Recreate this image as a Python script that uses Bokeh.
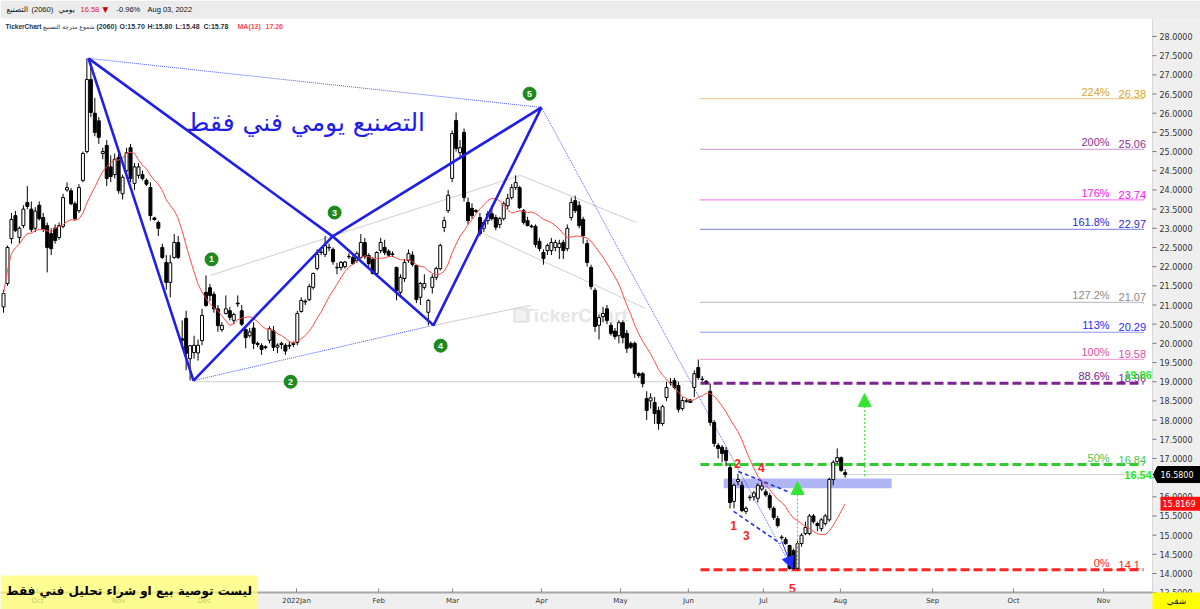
import numpy as np
import pandas as pd
from bokeh.plotting import figure
from bokeh.models import Label, Arrow, NormalHead
from bokeh.core.properties import value
from bokeh.embed import file_html
from bokeh.resources import INLINE

# ---- daily candles, التصنيع (2060) ----
opens = [20.95, 21.56, 22.73, 23.33, 22.76, 23.07, 23.67, 23.50, 23.00, 23.60,
         23.28, 23.07, 22.86, 23.00, 22.76, 23.05, 24.00, 23.98, 23.64, 23.46,
         24.25, 25.00, 26.88, 26.00, 25.80, 24.95, 25.16, 24.60, 24.40, 24.85,
         23.90, 24.50, 25.10, 24.17, 24.38, 24.40, 24.25, 24.06, 23.27, 23.15,
         22.50, 22.11, 21.59, 22.24, 22.63, 20.12, 20.65, 19.60, 19.76, 19.75,
         20.07, 21.33, 21.45, 21.28, 20.90, 20.36, 20.78, 20.85, 20.60, 21.05,
         20.85, 20.36, 20.20, 20.40, 20.00, 19.94, 19.91, 20.08, 20.33, 19.90,
         19.97, 19.95, 19.95, 19.97, 20.02, 20.83, 21.10, 21.14, 21.46, 21.95,
         22.37, 22.32, 22.50, 22.45, 21.98, 21.98, 22.00, 22.27, 22.24, 22.16,
         22.24, 22.63, 22.29, 22.19, 21.82, 22.42, 22.50, 22.40, 22.33, 21.98,
         21.33, 21.69, 22.16, 22.30, 22.03, 21.20, 21.46, 20.81, 21.46, 21.72,
         21.95, 23.02, 23.46, 24.30, 25.81, 24.97, 25.50, 23.67, 23.52, 23.46,
         23.28, 23.00, 23.20, 23.38, 23.28, 23.10, 23.25, 23.59, 23.80, 24.06,
         24.06, 23.46, 23.20, 23.06, 23.05, 22.66, 22.37, 22.42, 22.42, 22.50,
         22.50, 22.63, 22.47, 23.28, 23.72, 23.59, 23.23, 22.60, 21.98, 21.38,
         20.47, 20.70, 20.90, 20.47, 20.32, 20.20, 20.54, 20.26, 20.00, 20.00,
         19.21, 19.21, 18.56, 18.50, 18.46, 18.25, 17.91, 18.59, 18.98, 19.03,
         18.90, 18.30, 18.50, 18.52, 18.85, 19.37, 19.07, 19.01, 18.75, 17.94,
         17.34, 17.29, 17.21, 16.76, 15.88, 16.40, 16.30, 15.62, 15.99, 16.00,
         15.96, 16.20, 16.13, 16.03, 15.70, 15.43, 14.95, 14.89, 14.73, 14.60,
         14.13, 14.78, 15.04, 15.04, 15.50, 15.30, 15.17, 15.30, 15.40, 16.45,
         16.92, 17.02, 16.63]
highs = [21.40, 22.55, 23.40, 23.45, 23.05, 23.60, 24.10, 23.70, 23.55, 23.70,
         23.40, 23.15, 23.00, 23.10, 23.15, 23.90, 24.20, 24.05, 23.70, 24.15,
         25.00, 27.43, 27.30, 26.40, 25.90, 25.10, 25.30, 24.90, 24.95, 25.00,
         24.40, 25.10, 25.20, 24.70, 24.70, 24.50, 24.30, 24.20, 23.30, 23.20,
         22.60, 22.30, 22.30, 22.85, 22.80, 20.60, 20.85, 19.95, 20.20, 20.10,
         20.90, 21.77, 21.55, 21.35, 21.00, 20.55, 21.25, 20.95, 20.80, 21.25,
         21.00, 20.40, 20.40, 20.55, 20.05, 20.00, 19.95, 20.45, 20.45, 20.00,
         20.05, 20.00, 20.05, 20.05, 20.85, 21.20, 21.15, 21.55, 21.85, 22.45,
         22.45, 22.80, 22.60, 22.50, 22.10, 22.15, 22.15, 22.35, 22.30, 22.40,
         22.85, 22.75, 22.35, 22.25, 22.40, 22.75, 22.70, 22.45, 22.40, 22.00,
         21.80, 22.20, 22.45, 22.40, 22.05, 21.60, 21.80, 21.15, 21.80, 22.00,
         22.60, 23.30, 24.00, 25.55, 26.02, 25.30, 25.60, 23.80, 23.65, 23.50,
         23.40, 23.20, 23.45, 23.60, 23.35, 23.30, 23.70, 23.90, 24.15, 24.38,
         24.10, 23.50, 23.30, 23.10, 23.10, 22.75, 22.45, 22.60, 22.75, 22.70,
         22.70, 22.70, 23.10, 23.80, 23.85, 23.70, 23.30, 22.70, 22.05, 21.45,
         20.75, 20.95, 21.00, 20.55, 20.40, 20.60, 20.60, 20.35, 20.05, 20.05,
         19.25, 19.25, 18.75, 18.70, 18.60, 18.35, 18.40, 19.00, 19.10, 19.10,
         19.00, 18.60, 18.55, 18.55, 19.30, 19.58, 19.15, 19.05, 18.95, 18.00,
         17.40, 17.35, 17.30, 16.84, 16.35, 16.60, 16.40, 15.75, 16.05, 16.15,
         16.35, 16.40, 16.20, 16.10, 15.75, 15.50, 15.00, 14.95, 14.75, 14.65,
         14.85, 15.05, 15.35, 15.55, 15.55, 15.35, 15.45, 15.55, 16.50, 16.95,
         17.26, 17.05, 16.72]
lows = [20.80, 21.50, 22.60, 22.90, 22.60, 23.00, 23.50, 22.90, 22.90, 23.20,
        22.90, 21.85, 22.30, 22.60, 22.70, 23.00, 23.95, 23.60, 23.20, 23.40,
        24.20, 24.95, 25.90, 25.40, 25.20, 24.80, 24.10, 24.20, 24.30, 23.90,
        23.75, 24.40, 24.20, 24.00, 24.30, 24.25, 24.10, 23.20, 23.20, 22.80,
        22.20, 21.40, 21.20, 22.20, 22.20, 19.90, 19.30, 19.03, 19.60, 19.55,
        19.95, 20.95, 21.10, 20.80, 20.30, 20.30, 20.75, 20.60, 20.50, 20.95,
        20.45, 19.87, 20.15, 19.85, 19.90, 19.70, 19.85, 20.00, 19.80, 19.75,
        19.85, 19.70, 19.85, 19.90, 19.95, 20.80, 21.00, 21.10, 21.40, 21.90,
        22.30, 22.25, 22.40, 22.05, 21.80, 21.90, 21.95, 22.20, 22.05, 22.10,
        22.20, 22.20, 22.00, 21.80, 21.75, 22.35, 22.30, 22.25, 22.25, 21.12,
        21.20, 21.60, 22.10, 22.00, 21.05, 21.00, 21.40, 20.47, 21.30, 21.65,
        21.90, 22.90, 23.40, 24.20, 25.00, 24.80, 23.70, 23.10, 23.25, 23.40,
        22.80, 22.90, 23.10, 23.20, 22.95, 23.00, 23.20, 23.50, 23.75, 24.00,
        23.50, 23.10, 23.05, 23.00, 22.50, 22.40, 22.05, 22.30, 22.30, 22.40,
        22.20, 22.20, 22.40, 23.20, 23.40, 23.00, 22.60, 22.00, 21.40, 20.30,
        20.10, 20.55, 20.50, 20.20, 20.10, 20.00, 20.00, 19.75, 19.85, 19.10,
        19.10, 18.85, 18.00, 18.30, 17.90, 17.75, 17.85, 18.50, 18.90, 18.80,
        18.20, 18.25, 18.45, 18.45, 18.60, 19.05, 19.00, 18.95, 17.85, 17.30,
        17.00, 16.90, 16.80, 15.70, 15.70, 16.30, 15.60, 15.55, 15.90, 15.90,
        15.85, 16.15, 16.00, 15.65, 15.40, 15.20, 14.88, 14.75, 14.10, 14.10,
        14.10, 14.70, 15.00, 15.00, 15.30, 15.10, 15.10, 15.25, 15.35, 16.30,
        16.85, 16.65, 16.50]
closes = [21.30, 22.50, 23.23, 22.94, 23.00, 23.50, 23.57, 22.97, 23.45, 23.25,
          22.97, 22.50, 22.47, 22.68, 23.07, 23.80, 24.06, 23.64, 23.25, 24.06,
          24.95, 26.88, 26.02, 25.50, 25.37, 25.00, 24.30, 24.35, 24.80, 23.98,
          24.33, 24.97, 24.30, 24.60, 24.60, 24.30, 24.15, 23.33, 23.23, 23.00,
          22.24, 21.59, 22.10, 22.63, 22.24, 20.08, 19.74, 19.94, 19.95, 19.95,
          20.73, 20.99, 21.25, 20.90, 20.46, 20.47, 20.90, 20.68, 20.75, 21.03,
          20.50, 20.15, 20.30, 20.00, 19.97, 19.84, 19.89, 20.38, 19.90, 19.95,
          20.00, 19.80, 19.93, 20.00, 20.78, 21.12, 21.08, 21.48, 21.82, 22.32,
          22.38, 22.55, 22.49, 22.13, 21.97, 22.11, 22.12, 22.26, 22.08, 22.34,
          22.63, 22.26, 22.08, 21.82, 22.37, 22.63, 22.37, 22.30, 22.32, 21.38,
          21.72, 22.11, 22.34, 22.06, 21.14, 21.56, 21.56, 21.12, 21.72, 21.95,
          22.55, 23.20, 23.86, 25.47, 25.08, 25.10, 23.80, 23.20, 23.33, 23.44,
          22.86, 23.15, 23.38, 23.25, 23.03, 23.25, 23.64, 23.78, 24.06, 24.19,
          23.54, 23.15, 23.07, 23.04, 22.58, 22.47, 22.21, 22.55, 22.63, 22.63,
          22.60, 22.42, 23.00, 23.67, 23.46, 23.07, 22.81, 22.11, 21.48, 20.44,
          20.67, 20.78, 20.60, 20.26, 20.18, 20.54, 20.15, 19.87, 19.90, 19.21,
          19.16, 18.95, 18.25, 18.58, 18.17, 17.91, 18.35, 18.85, 18.97, 18.85,
          18.28, 18.51, 18.49, 18.46, 19.21, 19.11, 19.06, 19.00, 17.94, 17.39,
          17.26, 17.13, 16.95, 15.85, 16.30, 16.45, 15.64, 15.70, 15.98, 16.10,
          16.30, 16.28, 16.05, 15.72, 15.46, 15.25, 14.93, 14.78, 14.13, 14.13,
          14.78, 15.00, 15.20, 15.50, 15.35, 15.25, 15.40, 15.50, 16.45, 16.90,
          17.02, 16.69, 16.58]

# month labels on the bar axis
month_pos = [8.6, 29.0, 50.6, 73.8, 94.5, 113.1, 135.5, 155.4, 172.5, 191.4, 210.8, 234.0, 254.4, 277.1]
month_lbl = ["Oct", "Nov", "Dec", "2022Jan", "Feb", "Mar", "Apr", "May", "Jun", "Jul", "Aug",
             "Sep", "Oct", "Nov"]
price_ticks = [13.5 + 0.5 * k for k in range(30)]

# harmonic pattern X, A, B, C, D
pat_x = [21.4, 47.85, 82.9, 108.3, 135.5]
pat_y = [27.43, 19.03, 22.79, 20.47, 26.15]

# projection levels
fib_pct = ["224%", "200%", "176%", "161.8%", "127.2%", "113%", "100%", "88.6%", "50%", "0%"]
fib_val = [26.38, 25.06, 23.74, 22.97, 21.07, 20.29, 19.58, 18.96, 16.84, 14.1]
fib_col = ["#d8a52c", "#8e3295", "#ff10f0", "#2b2bd0", "#8a8a8a", "#1f2cff", "#e050a8",
           "#7d2290", "#2ecc2e", "#ff2424"]
fib_txt_col = ["#d8a52c", "#8e3295", "#ff10f0", "#2b2bd0", "#8a8a8a", "#1f2cff", "#e050a8",
               "#7d2290", "#4cc44c", "#ff2424"]
fib_heavy = [False, False, False, False, False, False, False, True, True, True]

# swing targets
target_val = [19.06, 16.54]

ma_period = 13
last_price = 16.58

o = np.array(opens); h = np.array(highs); l = np.array(lows); c = np.array(closes)
n = len(c)
idx = np.arange(n)
ma = pd.Series(c).rolling(ma_period, min_periods=1).mean().to_numpy()

# plot spans the whole canvas; the price scale and the date strip are drawn inside it
X0, X1 = -0.76, 301.5        # left / right edge of the canvas in bar units
XA = 289.4                   # price scale starts here
YB, YT = 13.062, 28.938      # bottom / top edge of the canvas in price units
YA = 13.506                  # date strip starts here
YH = 28.469                  # header band bottom
PXX = 3.97                   # pixels per bar
PXY = 38.36                  # pixels per price unit

p = figure(width=1200, height=609, x_range=(X0, X1), y_range=(YB, YT),
           output_backend="svg", toolbar_location=None,
           x_axis_location=None, y_axis_location=None,
           min_border=0, min_border_left=0, min_border_right=0, min_border_top=0, min_border_bottom=0,
           background_fill_color="white", border_fill_color="white", outline_line_color=None)
p.grid.visible = False

# header band, price scale panel, date strip
p.quad(left=[X0], right=[X1], bottom=[YH], top=[YT], fill_color="#ececec", line_color=None)
p.quad(left=[XA], right=[X1], bottom=[YB], top=[YH], fill_color="#efefef", line_color=None)
p.quad(left=[X0], right=[XA], bottom=[YB], top=[YA], fill_color="#efefef", line_color=None)

# watermark
p.scatter([130.3], [20.73], marker="square", size=13, fill_color="#f2f2f2", line_color="#e4e4e4",
          line_width=2)
p.text(x=[144], y=[20.73], text=["TickerChart"], text_font=value("Liberation Sans"),
       text_font_size="19px", text_font_style="bold", text_color="#e6e6e6",
       text_align="center", text_baseline="middle")

# projection lines
f0, f1 = 175.56, 287.15
for v, col, heavy in zip(fib_val, fib_col, fib_heavy):
    if heavy:
        p.line([f0, f1], [v, v], line_color=col, line_width=3, line_dash="9 4")
    else:
        p.line([f0, f1], [v, v], line_color=col, line_width=1.2, line_dash="1 1")
p.text(x=[278.6] * len(fib_pct), y=fib_val, text=fib_pct, text_color=fib_txt_col,
       text_font=value("Liberation Sans"), text_font_size="11px",
       text_align="right", text_baseline="bottom", y_offset=-1)
p.text(x=[280.85] * len(fib_val), y=fib_val, text=[f"{v:g}" for v in fib_val],
       text_color=fib_txt_col, text_font=value("Liberation Sans"), text_font_size="11px",
       text_align="left", text_baseline="bottom", y_offset=-1)

# last price line
p.line([n - 1, XA], [last_price, last_price], line_color="#d4d4d4", line_width=1)

# reaction zone
p.quad(left=[181.4], right=[223.7], bottom=[16.22], top=[16.48],
       fill_color="#6d78ec", fill_alpha=0.55, line_color=None)

# gray channel lines
chan = [((52.1, 21.77), (130.2, 24.38)), ((130.2, 24.38), (159.4, 23.15)),
        ((108.3, 20.47), (132.7, 20.99)), ((120.9, 22.86), (161.7, 20.91)),
        ((47.85, 19.0), (174.8, 19.0))]
for (a, b) in chan:
    p.line([a[0], b[0]], [a[1], b[1]], line_color="#cfcfcf", line_width=1)

# thin dotted guides of the pattern
p.line([pat_x[0], pat_x[4]], [pat_y[0], pat_y[4]], line_color="#4a5cff", line_width=1, line_dash="1 1")
p.line([pat_x[1], pat_x[3]], [pat_y[1], pat_y[3]], line_color="#4a5cff", line_width=1, line_dash="1 1")
p.line([pat_x[4], 198.7], [pat_y[4], 14.13], line_color="#4a5cff", line_width=1, line_dash="1 1")

# candles
p.segment(x0=idx, y0=l, x1=idx, y1=h, line_color="black", line_width=1)
up = c >= o
p.vbar(x=idx[up], bottom=o[up], top=c[up], width=0.75, fill_color="white", line_color="black", line_width=1)
p.vbar(x=idx[~up], bottom=c[~up], top=o[~up], width=0.75, fill_color="black", line_color="black", line_width=1)

# moving average
p.line(idx, ma, line_color="#ff4b4b", line_width=1)

# harmonic pattern legs
p.line(pat_x, pat_y, line_color="#1f1fe8", line_width=2.6)
p.line([pat_x[0], pat_x[2]], [pat_y[0], pat_y[2]], line_color="#1f1fe8", line_width=2.6)
p.line([pat_x[2], pat_x[4]], [pat_y[2], pat_y[4]], line_color="#1f1fe8", line_width=2.6)

# wedge
p.line([185.1, 198.2], [16.66, 16.11], line_color="#2233e6", line_width=1.6, line_dash="4 3")
p.line([183.9, 195.7], [15.62, 14.78], line_color="#2233e6", line_width=1.6, line_dash="4 3")
p.add_layout(Arrow(end=NormalHead(size=12, fill_color="#1f2cff", line_color="#1f2cff"),
                   x_start=196.0, y_start=14.85, x_end=198.7, y_end=14.13,
                   line_color="#1f2cff", line_width=1))

# target arrows
for xa, ya0, ya1 in [(200.0, 14.13, 16.40), (216.9, 16.54, 18.69)]:
    p.add_layout(Arrow(end=NormalHead(size=13, fill_color="#33e633", line_color="#33e633"),
                       x_start=xa, y_start=ya0, x_end=xa, y_end=ya1,
                       line_color="#33dd33", line_width=1, line_dash="2 2"))

# targets text
p.text(x=[282.3, 282.3], y=target_val, text=[f"{v:.2f}" for v in target_val], text_color="#22ee22",
       text_font=value("Liberation Sans"), text_font_size="11px", text_font_style="bold",
       text_align="left", text_baseline="bottom", y_offset=[0, 3])

# wave counts
p.text(x=[184.9, 190.9, 183.9, 187.1, 198.7], y=[16.87, 16.76, 15.25, 14.99, 13.61],
       text=["2", "4", "1", "3", "5"], text_color="#ff2020", text_font=value("Liberation Sans"),
       text_font_size="12px", text_font_style="bold", text_align="center", text_baseline="middle")

# point markers
mk_x = [52.4, 72.3, 83.4, 110.1, 132.5]
mk_y = [22.19, 19.0, 23.41, 19.94, 26.51]
p.scatter(mk_x, mk_y, size=13, marker="circle", fill_color="#1c8a1c", line_color="#1c8a1c")
p.text(x=mk_x, y=mk_y, text=["1", "2", "3", "4", "5"], text_color="white",
       text_font=value("Liberation Sans"), text_font_size="9px", text_font_style="bold",
       text_align="center", text_baseline="middle")

# title
p.text(x=[76.1], y=[25.76], text=["التصنيع يومي فني فقط"], text_color="#1e1ee8",
       text_font=value("DejaVu Sans"), text_font_size="25px",
       text_align="center", text_baseline="middle")

# ---- price scale ----
p.line([XA, XA], [YA, YH], line_color="#d6d6d6", line_width=1)
p.segment(x0=[XA] * len(price_ticks), y0=price_ticks, x1=[XA + 4 / PXX] * len(price_ticks),
          y1=price_ticks, line_color="#777777", line_width=1)
p.text(x=[XA + 7 / PXX] * len(price_ticks), y=price_ticks, text=[f"{t:.4f}" for t in price_ticks],
       text_font=value("DejaVu Sans"), text_font_size="8px", text_color="#333333",
       text_align="left", text_baseline="middle")

# ---- date strip ----
p.line([X0, XA], [YA, YA], line_color="#a8a8a8", line_width=2)
p.segment(x0=month_pos, y0=[YA] * len(month_pos), x1=month_pos, y1=[YA + 4 / PXY] * len(month_pos),
          line_color="#888888", line_width=1)
p.text(x=month_pos, y=[YA - 9 / PXY] * len(month_pos), text=month_lbl,
       text_font=value("DejaVu Sans"), text_font_size="7px", text_color="#333333",
       text_align="center", text_baseline="middle")

# price tags on the scale
tag_h = 8 / PXY
tx0, tx1 = XA + 1 / PXX, XA + 5 / PXX
p.patch([tx0, tx1, X1, X1, tx1], [last_price, last_price + tag_h, last_price + tag_h,
                                  last_price - tag_h, last_price - tag_h],
        fill_color="black", line_color="black")
p.text(x=[XA + 8 / PXX], y=[last_price], text=[f"{last_price:.4f}"], text_color="white",
       text_font=value("DejaVu Sans"), text_font_size="8px", text_align="left", text_baseline="middle")
ma_last = float(ma[-1])
p.quad(left=[XA + 8 / PXX], right=[X1], bottom=[ma_last - 7 / PXY], top=[ma_last + 7 / PXY],
       fill_color="#ff1010", line_color=None)
p.text(x=[XA + 10 / PXX], y=[ma_last], text=[f"{ma_last:.4f}"], text_color="white",
       text_font=value("DejaVu Sans"), text_font_size="8px", text_align="left", text_baseline="middle")

# corner box
p.quad(left=[XA], right=[X1], bottom=[YB], top=[YA], fill_color="#ffff00", line_color=None)
p.text(x=[(XA + X1) / 2], y=[(YB + YA) / 2], text=["شفي"], text_color="#222222",
       text_font=value("DejaVu Sans"), text_font_size="9px", text_align="center",
       text_baseline="middle")

# disclaimer banner
ban_r = X0 + 257 / PXX
ban_t = YT - 575 / PXY
p.quad(left=[X0], right=[ban_r], bottom=[YB], top=[ban_t], fill_color="#ffff6a",
       fill_alpha=0.72, line_color=None)
p.text(x=[(X0 + ban_r) / 2], y=[(YB + ban_t) / 2 + 1 / PXY], text=["ليست توصية بيع او شراء تحليل فني فقط"],
       text_color="black", text_font=value("DejaVu Sans"), text_font_size="12px",
       text_font_style="bold", text_align="center", text_baseline="middle")

# header texts
def head(txt, x, y, color="#111111", size="7.5px", bold=False, font="Liberation Sans", align="left"):
    p.add_layout(Label(x=x, y=y, x_units="screen", y_units="screen", text=txt,
                       text_color=color, text_font_size=size, text_font=font,
                       text_font_style="bold" if bold else "normal",
                       text_baseline="middle", text_align=align))

head("التصنيع", 6, 600, font="DejaVu Sans")
head("(2060)", 31, 600)
head("يومي", 58, 600, font="DejaVu Sans")
head("16.58", 80, 600, color="#e0203a")
head("▼", 102, 600, color="#cc0000", font="DejaVu Sans")
head("-0.96%", 116, 600)
head("Aug 03, 2022", 147, 600)
hc = "#2e2e44"
head("TickerChart", 5, 583, color=hc, size="6.5px", bold=True)
head("شموع مترجة التصنيع", 94, 583, color=hc, size="6px", font="DejaVu Sans", align="right")
head("(2060)", 96, 583, color=hc, size="7px", bold=True)
head("O:15.70", 119, 583, color=hc, size="7px", bold=True)
head("H:15.80", 147, 583, color=hc, size="7px", bold=True)
head("L:15.48", 175, 583, color=hc, size="7px", bold=True)
head("C:15.78", 203, 583, color=hc, size="7px", bold=True)
head("MA(13)", 237, 583, color="#ff4b4b", size="7px", bold=True)
head("17.26", 265, 583, color="#ff4b4b", size="7px", bold=True)

open("out.html", "w").write(file_html(p, INLINE))
